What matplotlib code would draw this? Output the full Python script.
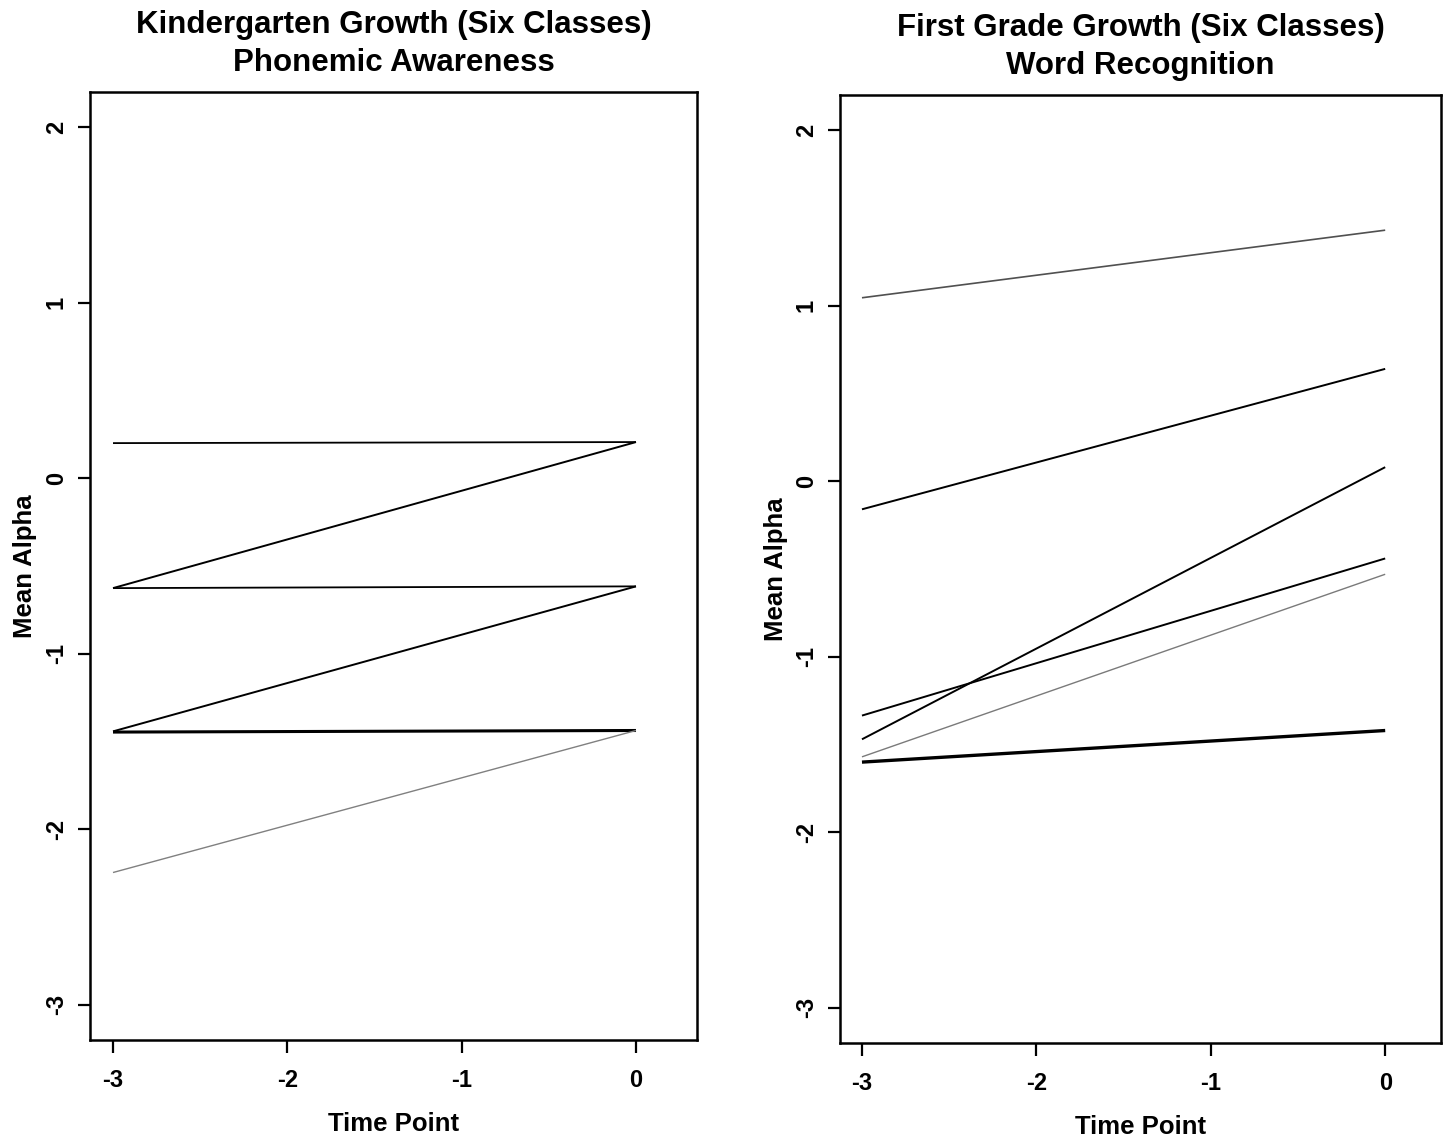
import matplotlib
matplotlib.use("Agg")
import matplotlib.pyplot as plt

plt.rcParams['font.family'] = ['Liberation Sans', 'DejaVu Sans']

time_points = [-3, 0]
x_ticks = [-3, -2, -1, 0]
y_ticks = [-3, -2, -1, 0, 1, 2]

# Kindergarten (Phonemic Awareness): start/end means per class
k_start = [0.20, -0.626, -0.626, -1.442, -1.446, -2.246]
k_end = [0.206, 0.206, -0.616, -0.616, -1.437, -1.437]
k_color = ['black', 'black', 'black', 'black', 'black', '#808080']
k_lw = [1.3, 1.4, 1.3, 1.4, 2.2, 1.0]

# First grade (Word Recognition)
f_start = [1.045, -0.16, -1.47, -1.335, -1.57, -1.60]
f_end = [1.43, 0.64, 0.08, -0.44, -0.53, -1.42]
f_color = ['#505050', 'black', 'black', 'black', '#7a7a7a', 'black']
f_lw = [1.2, 1.4, 1.4, 1.4, 1.0, 2.4]

W, H = 1443, 1140
fig = plt.figure(figsize=(W / 100, H / 100), dpi=100)

panels = [
    dict(rect=[90 / W, 1 - 1040 / H, 607 / W, 948 / H], xlim=(-3.132, 0.35),
         title="Kindergarten Growth (Six Classes)\nPhonemic Awareness",
         s=k_start, e=k_end, c=k_color, lw=k_lw, ylab_x=-0.088),
    dict(rect=[840 / W, 1 - 1043 / H, 601 / W, 948 / H], xlim=(-3.126, 0.32),
         title="First Grade Growth (Six Classes)\nWord Recognition",
         s=f_start, e=f_end, c=f_color, lw=f_lw, ylab_x=-0.086),
]

for p in panels:
    ax = fig.add_axes(p['rect'])
    for s, e, c, lw in zip(p['s'], p['e'], p['c'], p['lw']):
        ax.plot(time_points, [s, e], color=c, lw=lw, solid_capstyle='butt')
    ax.set_xlim(*p['xlim'])
    ax.set_ylim(-3.2, 2.2)
    ax.set_xticks(x_ticks)
    ax.set_yticks(y_ticks)
    ax.set_xticklabels([str(v) for v in x_ticks], fontsize=17, fontweight='bold')
    ax.set_yticklabels([str(v) for v in y_ticks], fontsize=17, rotation=90,
                       va='center', fontweight='bold')
    ax.tick_params(direction='out', length=9, width=1.6)
    ax.tick_params(axis='x', pad=12)
    ax.tick_params(axis='y', pad=7)
    for sp in ax.spines.values():
        sp.set_linewidth(1.8)
    ax.set_xlabel("Time Point", fontsize=18.5, fontweight='bold', labelpad=14)
    ax.set_ylabel("Mean Alpha", fontsize=18.5, fontweight='bold')
    ax.yaxis.set_label_coords(p['ylab_x'], 0.5)
    ax.set_title(p['title'], fontsize=22.5, fontweight='bold', pad=15,
                 linespacing=1.35)

fig.savefig("out.png", dpi=100)
